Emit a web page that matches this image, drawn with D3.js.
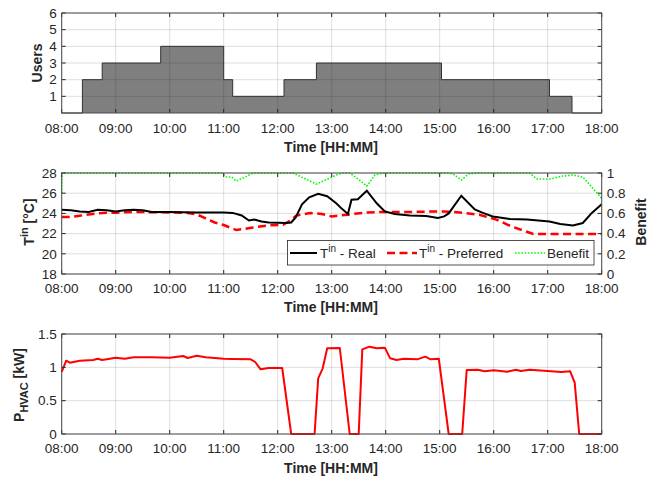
<!DOCTYPE html>
<html>
<head>
<meta charset="utf-8">
<script src="https://cdn.jsdelivr.net/npm/d3@7"></script>
<style>
  body { margin: 0; background: #fff; }
  text { font-family: "Liberation Sans", Arial, sans-serif; fill: #262626; }
</style>
</head>
<body>
<svg id="chart" width="657" height="481"></svg>
<script>
// ---- data (times as HH:MM) ----
const hourTicks = [8, 9, 10, 11, 12, 13, 14, 15, 16, 17, 18];
const hourLabels = ['08:00', '09:00', '10:00', '11:00', '12:00', '13:00', '14:00', '15:00', '16:00', '17:00', '18:00'];

const usersTime = ['08:00', '08:23', '08:45', '09:50', '11:00', '11:10', '12:07', '12:43', '15:02', '17:02', '17:27', '18:00'];
const usersVal  = [0, 2, 3, 4, 2, 1, 2, 3, 2, 1, 0, 0];

const realTime = ['08:00', '08:10', '08:20', '08:30', '08:40', '08:50', '09:00', '09:10', '09:20', '09:30', '09:40', '10:00',
  '10:30', '11:00', '11:10', '11:20', '11:28', '11:34', '11:42', '11:50', '12:10', '12:15', '12:20', '12:27', '12:35',
  '12:45', '12:55', '13:05', '13:12', '13:18', '13:22', '13:29', '13:39', '13:50', '13:59', '14:10', '14:27', '14:45',
  '14:58', '15:05', '15:10', '15:24', '15:39', '15:48', '15:59', '16:18', '16:37', '17:02', '17:14', '17:28', '17:39',
  '17:49', '18:00'];
const realTemp = [24.35, 24.3, 24.2, 24.15, 24.35, 24.3, 24.2, 24.3, 24.35, 24.3, 24.15, 24.15,
  24.1, 24.1, 24.05, 23.8, 23.3, 23.4, 23.2, 23.1, 23.05, 23.1, 23.6, 24.9, 25.6,
  25.95, 25.7, 25.0, 24.4, 23.95, 25.35, 25.4, 26.25, 25.0, 24.2, 23.95, 23.8, 23.75,
  23.55, 23.7, 24.0, 25.75, 24.4, 24.05, 23.7, 23.45, 23.4, 23.2, 22.95, 22.8, 23.05,
  24.05, 24.9];

const prefTime = ['08:00', '08:10', '08:20', '08:30', '08:40', '08:50', '09:00', '09:20', '09:40', '10:00', '10:20', '10:30',
  '10:40', '10:50', '11:00', '11:14', '11:29', '11:48', '12:06', '12:14', '12:21', '12:36', '12:49', '13:00', '13:17',
  '13:39', '14:00', '14:30', '15:04', '15:22', '15:44', '16:03', '16:20', '16:44', '18:00'];
const prefTemp = [23.65, 23.65, 23.77, 23.9, 24.0, 24.07, 24.07, 24.15, 24.12, 24.1, 24.05, 23.9,
  23.5, 23.1, 22.85, 22.35, 22.55, 22.8, 22.88, 23.3, 23.8, 24.04, 23.94, 23.7, 23.87,
  24.1, 24.15, 24.15, 24.2, 24.1, 23.87, 23.38, 22.7, 21.96, 21.96];

const benefitTime = ['08:00', '08:00', '10:58', '11:03', '11:09', '11:14', '11:26', '11:33', '12:17', '12:43', '12:58',
  '13:05', '13:12', '13:20', '13:28', '13:39', '13:48', '13:57', '15:10', '15:15', '15:24', '15:32', '15:40', '16:40',
  '16:48', '17:02', '17:17', '17:28', '17:39', '18:00'];
const benefitVal = [0.8, 1, 1, 0.96, 0.96, 0.92, 0.97, 1, 1, 0.89, 0.95,
  0.98, 1, 1, 0.95, 0.87, 0.98, 1, 1, 0.99, 0.93, 0.99, 1, 1,
  0.94, 0.94, 0.97, 0.98, 0.96, 0.75];

const powerTime = ['08:00', '08:05', '08:09', '08:20', '08:35', '08:40', '08:45', '09:00', '09:10', '09:20', '09:40', '10:00',
  '10:15', '10:20', '10:30', '10:40', '11:00', '11:10', '11:30', '11:35', '11:41', '11:50', '12:05', '12:15', '12:41',
  '12:45', '12:50', '12:55', '13:09', '13:20', '13:30', '13:34', '13:42', '13:50', '13:59', '14:05', '14:12', '14:20',
  '14:35', '14:44', '14:50', '14:59', '15:10', '15:25', '15:30', '15:42', '15:50', '16:00', '16:15', '16:25', '16:30',
  '16:40', '17:00', '17:15', '17:25', '17:30', '17:35', '18:00'];
const powerVal = [0.93, 1.10, 1.07, 1.10, 1.11, 1.13, 1.11, 1.145, 1.13, 1.15, 1.15, 1.145,
  1.17, 1.14, 1.175, 1.15, 1.13, 1.125, 1.12, 1.08, 0.97, 0.99, 0.99, 0, 0,
  0.835, 0.985, 1.285, 1.29, 0, 0, 1.27, 1.31, 1.285, 1.295, 1.135, 1.11, 1.13,
  1.12, 1.16, 1.12, 1.13, 0, 0, 0.96, 0.965, 0.94, 0.955, 0.935, 0.965, 0.945,
  0.965, 0.945, 0.93, 0.94, 0.77, 0, 0];

const usersTicks = [1, 2, 3, 4, 5, 6];
const tempTicks = [18, 20, 22, 24, 26, 28];
const benefitTicks = [0, 0.2, 0.4, 0.6, 0.8, 1];
const benefitLabels = ['0', '0.2', '0.4', '0.6', '0.8', '1'];
const powerTicks = [0, 0.5, 1, 1.5];
const powerLabels = ['0', '0.5', '1', '1.5'];

// ---- helpers ----
function toHours(s) {
    const [h, m] = s.split(':').map(Number);
    return h + m / 60;
}
function zip(times, vals) {
    return times.map((t, i) => ({ t: toHours(t), v: vals[i] }));
}

const svg = d3.select('#chart');
const x = d3.scaleLinear().domain([8, 18]).range([61.7, 601.7]);
const gridColor = 'rgba(38,38,38,0.15)';
const TICK = 4;

function drawGrid(g, y, yTicks, top, bottom) {
    g.append('g').selectAll('line').data(hourTicks).enter().append('line')
        .attr('x1', d => x(d)).attr('x2', d => x(d))
        .attr('y1', top).attr('y2', bottom)
        .attr('stroke', gridColor).attr('stroke-width', 1);
    g.append('g').selectAll('line').data(yTicks).enter().append('line')
        .attr('x1', x(8)).attr('x2', x(18))
        .attr('y1', d => y(d)).attr('y2', d => y(d))
        .attr('stroke', gridColor).attr('stroke-width', 1);
}

function drawBox(g, y, yTicks, yLabels, top, bottom, opts) {
    const frame = g.append('g');
    // x ticks inward (bottom and top)
    frame.selectAll('.xb').data(hourTicks).enter().append('line')
        .attr('x1', d => x(d)).attr('x2', d => x(d))
        .attr('y1', bottom).attr('y2', bottom - TICK)
        .attr('stroke', '#262626');
    frame.selectAll('.xt').data(hourTicks).enter().append('line')
        .attr('x1', d => x(d)).attr('x2', d => x(d))
        .attr('y1', top).attr('y2', top + TICK)
        .attr('stroke', '#262626');
    // y ticks left
    frame.selectAll('.yl').data(yTicks).enter().append('line')
        .attr('x1', x(8)).attr('x2', x(8) + TICK)
        .attr('y1', d => y(d)).attr('y2', d => y(d))
        .attr('stroke', '#262626');
    if (opts.mirrorY) {
        frame.selectAll('.yr').data(yTicks).enter().append('line')
            .attr('x1', x(18)).attr('x2', x(18) - TICK)
            .attr('y1', d => y(d)).attr('y2', d => y(d))
            .attr('stroke', '#262626');
    }
    frame.append('rect')
        .attr('x', x(8)).attr('y', top)
        .attr('width', x(18) - x(8)).attr('height', bottom - top)
        .attr('fill', 'none').attr('stroke', '#4d4d4d').attr('stroke-width', 1);

    // tick labels
    g.selectAll('.xl').data(hourTicks).enter().append('text')
        .attr('x', d => x(d)).attr('y', bottom + opts.xLabelOff)
        .attr('text-anchor', 'middle').attr('font-size', '13.5px')
        .text((d, i) => hourLabels[i]);
    g.selectAll('.ylab').data(yTicks).enter().append('text')
        .attr('x', x(8) - 5).attr('y', d => y(d)).attr('dy', '0.35em')
        .attr('text-anchor', 'end').attr('font-size', '13.5px')
        .text((d, i) => yLabels[i]);
    g.append('text')
        .attr('x', 331).attr('y', bottom + opts.timeOff)
        .attr('text-anchor', 'middle').attr('font-size', '14px').attr('font-weight', 'bold')
        .text('Time [HH:MM]');
}

// ---- panel 1: users ----
{
    const top = 13, bottom = 113;
    const y = d3.scaleLinear().domain([0, 6]).range([bottom, top]);
    const g = svg.append('g');
    drawGrid(g, y, usersTicks, top, bottom);
    const area = d3.area().curve(d3.curveStepAfter)
        .x(d => x(d.t)).y0(y(0)).y1(d => y(d.v));
    const line = d3.line().curve(d3.curveStepAfter)
        .x(d => x(d.t)).y(d => y(d.v));
    const data = zip(usersTime, usersVal);
    g.append('path').datum(data).attr('d', area)
        .attr('fill', '#000').attr('fill-opacity', 0.5);
    g.append('path').datum(data).attr('d', line)
        .attr('fill', 'none').attr('stroke', '#333').attr('stroke-width', 1);
    drawBox(g, y, usersTicks, usersTicks.map(String), top, bottom,
        { mirrorY: true, xLabelOff: 20, timeOff: 39 });
    g.append('text')
        .attr('transform', 'translate(42,63) rotate(-90)')
        .attr('text-anchor', 'middle').attr('font-size', '14px').attr('font-weight', 'bold')
        .text('Users');
}

// ---- panel 2: temperatures + benefit ----
{
    const top = 173, bottom = 274;
    const y = d3.scaleLinear().domain([18, 28]).range([bottom, top]);
    const yB = d3.scaleLinear().domain([0, 1]).range([bottom, top]);
    const g = svg.append('g');
    drawGrid(g, y, tempTicks, top, bottom);

    const lineT = d3.line().x(d => x(d.t)).y(d => y(d.v));
    const lineB = d3.line().x(d => x(d.t)).y(d => yB(d.v));

    g.append('path').datum(zip(benefitTime, benefitVal)).attr('d', lineB)
        .attr('fill', 'none').attr('stroke', '#00ff00').attr('stroke-width', 1.6)
        .attr('stroke-dasharray', '1.6,1.6');
    g.append('path').datum(zip(prefTime, prefTemp)).attr('d', lineT)
        .attr('fill', 'none').attr('stroke', '#ff0000').attr('stroke-width', 2.5)
        .attr('stroke-dasharray', '8,4.5');
    g.append('path').datum(zip(realTime, realTemp)).attr('d', lineT)
        .attr('fill', 'none').attr('stroke', '#000').attr('stroke-width', 2);

    drawBox(g, y, tempTicks, tempTicks.map(String), top, bottom,
        { mirrorY: false, xLabelOff: 19, timeOff: 38 });

    // right axis
    g.selectAll('.yr').data(benefitTicks).enter().append('line')
        .attr('x1', x(18)).attr('x2', x(18) - TICK)
        .attr('y1', d => yB(d)).attr('y2', d => yB(d))
        .attr('stroke', '#262626');
    g.selectAll('.yrl').data(benefitTicks).enter().append('text')
        .attr('x', x(18) + 5).attr('y', d => yB(d)).attr('dy', '0.35em')
        .attr('text-anchor', 'start').attr('font-size', '13.5px')
        .text((d, i) => benefitLabels[i]);

    const yl = g.append('text')
        .attr('transform', 'translate(34,222) rotate(-90)')
        .attr('text-anchor', 'middle').attr('font-size', '14px').attr('font-weight', 'bold');
    yl.append('tspan').text('T');
    yl.append('tspan').attr('font-size', '11px').attr('dy', -6).text('in');
    yl.append('tspan').attr('dy', 6).text(' [°C]');

    g.append('text')
        .attr('transform', 'translate(646,222) rotate(-90)')
        .attr('text-anchor', 'middle').attr('font-size', '14px').attr('font-weight', 'bold')
        .text('Benefit');

    // legend
    const lg = g.append('g');
    lg.append('rect').attr('x', 287.5).attr('y', 240.5).attr('width', 306.5).attr('height', 24.5)
        .attr('fill', '#fff').attr('stroke', '#262626').attr('stroke-width', 0.8);
    const items = [
        { x0: 290, x1: 317, tx: 320, color: '#000', w: 2, dash: null, main: 'T', sup: 'in', rest: ' - Real' },
        { x0: 387, x1: 417, tx: 419, color: '#ff0000', w: 2.5, dash: '8,4.5', main: 'T', sup: 'in', rest: ' - Preferred' },
        { x0: 515, x1: 545, tx: 547, color: '#00ff00', w: 1.6, dash: '1.6,1.6', main: 'Benefit', sup: null, rest: null }
    ];
    items.forEach(it => {
        lg.append('line').attr('x1', it.x0).attr('x2', it.x1).attr('y1', 253).attr('y2', 253)
            .attr('stroke', it.color).attr('stroke-width', it.w)
            .attr('stroke-dasharray', it.dash);
        const t = lg.append('text').attr('x', it.tx).attr('y', 258).attr('font-size', '13.5px');
        t.append('tspan').text(it.main);
        if (it.sup) {
            t.append('tspan').attr('font-size', '10px').attr('dy', -6).text(it.sup);
            t.append('tspan').attr('dy', 6).text(it.rest);
        }
    });
}

// ---- panel 3: HVAC power ----
{
    const top = 334, bottom = 434;
    const y = d3.scaleLinear().domain([0, 1.5]).range([bottom, top]);
    const g = svg.append('g');
    drawGrid(g, y, powerTicks, top, bottom);
    const line = d3.line().x(d => x(d.t)).y(d => y(d.v));
    g.append('path').datum(zip(powerTime, powerVal)).attr('d', line)
        .attr('fill', 'none').attr('stroke', '#ff0000').attr('stroke-width', 2)
        .attr('stroke-linejoin', 'round');
    drawBox(g, y, powerTicks, powerLabels, top, bottom,
        { mirrorY: true, xLabelOff: 19, timeOff: 39 });
    const yl = g.append('text')
        .attr('transform', 'translate(24,385) rotate(-90)')
        .attr('text-anchor', 'middle').attr('font-size', '14px').attr('font-weight', 'bold');
    yl.append('tspan').text('P');
    yl.append('tspan').attr('font-size', '11px').attr('dy', 4).text('HVAC');
    yl.append('tspan').attr('dy', -4).text(' [kW]');
}
</script>
</body>
</html>
